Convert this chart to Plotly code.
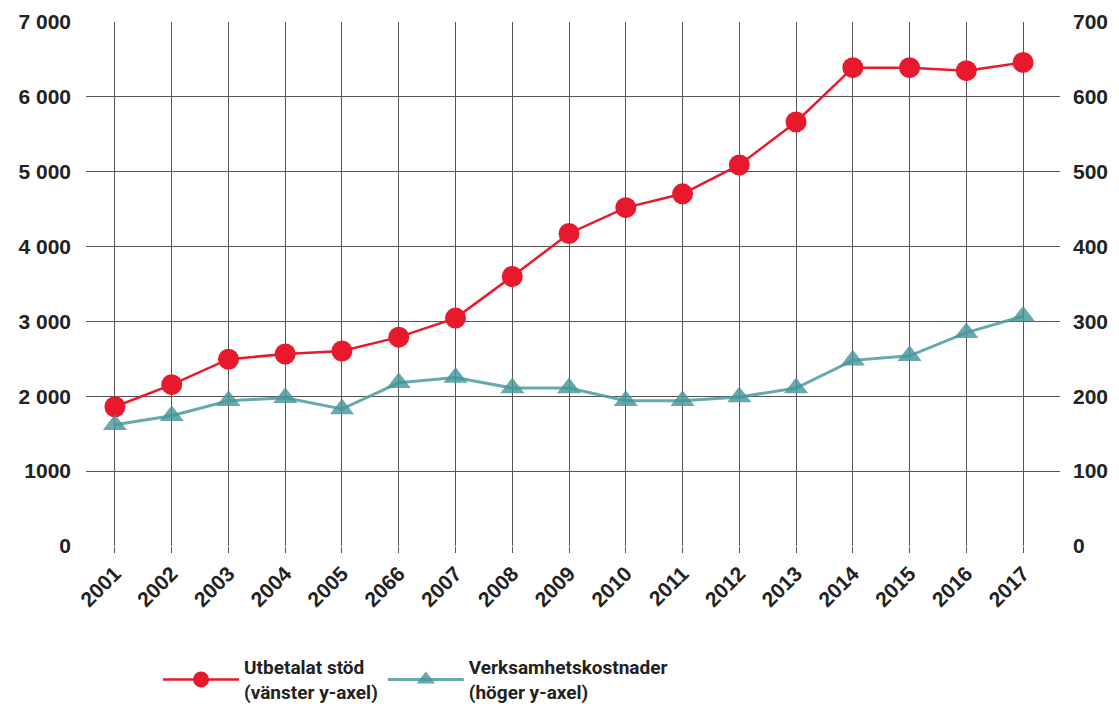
import plotly.graph_objects as go

years = ["2001", "2002", "2003", "2004", "2005", "2066", "2007", "2008", "2009",
         "2010", "2011", "2012", "2013", "2014", "2015", "2016", "2017"]
utbetalat = [1860, 2155, 2495, 2565, 2605, 2790, 3045, 3600, 4175,
             4520, 4705, 5090, 5665, 6390, 6390, 6350, 6460]
verksamhet = [162, 174, 194, 198, 183, 218, 225, 211, 211,
              194, 194, 199, 211, 248, 254, 285, 307]

left_vals = [0, 1000, 2000, 3000, 4000, 5000, 6000, 7000]
left_text = ["0", "1000", "2 000", "3 000", "4 000", "5 000", "6 000", "7 000"]
right_vals = [0, 100, 200, 300, 400, 500, 600, 700]
right_text = ["0", "100", "200", "300", "400", "500", "600", "700"]

RED = "#e8192c"
TEAL = "rgba(70,150,155,0.82)"
GRID = "#555555"
TICKFONT = dict(family="Liberation Sans, Arial", size=21, color="#222222", weight="bold")
LEGFONT = dict(family="Roboto, Liberation Sans", size=19, color="#222222", weight="bold")

fig = go.Figure()
fig.add_trace(go.Scatter(
    x=years, y=utbetalat, name="Utbetalat stöd<br>(vänster y-axel)",
    mode="lines+markers", yaxis="y",
    line=dict(color=RED, width=2.5),
    marker=dict(symbol="circle", size=21, color=RED),
))
fig.add_trace(go.Scatter(
    x=years, y=verksamhet, name="Verksamhetskostnader<br>(höger y-axel)",
    mode="lines+markers", yaxis="y2",
    line=dict(color=TEAL, width=3),
    marker=dict(symbol="triangle-up", size=21, color=TEAL),
))

# page body has an 8px margin, so the figure is 8px smaller and margins shifted
fig.update_layout(
    width=1111, height=699,
    margin=dict(l=78, r=59, t=14, b=161, autoexpand=False),
    paper_bgcolor="white", plot_bgcolor="white",
    font=LEGFONT,
    showlegend=True,
    legend=dict(orientation="h", x=0.074, y=-0.195, xanchor="left", yanchor="top",
                font=LEGFONT, itemwidth=76, tracegroupgap=0),
    xaxis=dict(
        type="category", range=[-0.51, 16.65], automargin=False,
        showgrid=True, gridcolor=GRID, gridwidth=1,
        ticks="outside", ticklen=6, tickcolor=GRID,
        tickangle=-45, showline=False, zeroline=False,
        tickfont=TICKFONT,
    ),
    yaxis=dict(
        range=[0, 7000], tickvals=left_vals, ticktext=left_text, automargin=False,
        showgrid=True, gridcolor=GRID, gridwidth=1, zeroline=False,
        ticks="", ticklabelstandoff=14,
        tickfont=TICKFONT,
    ),
    yaxis2=dict(
        range=[0, 700], tickvals=right_vals, ticktext=right_text, automargin=False,
        overlaying="y", side="right", showgrid=False, zeroline=False,
        ticks="", ticklabelstandoff=12,
        tickfont=TICKFONT,
    ),
)

fig.write_html("out.html")
